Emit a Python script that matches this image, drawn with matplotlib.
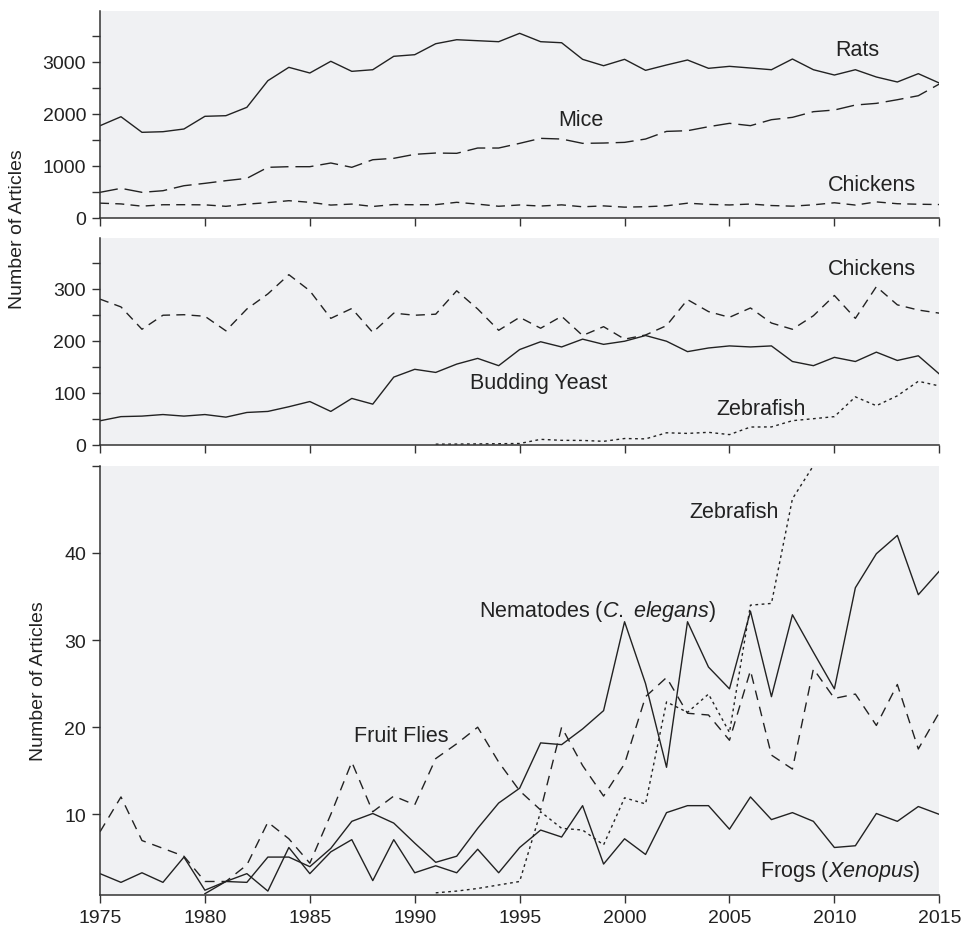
import numpy as np
import matplotlib
matplotlib.use("Agg")
import matplotlib.pyplot as plt

plt.rcParams['font.family'] = ['Liberation Sans', 'DejaVu Sans']
plt.rcParams['mathtext.fontset'] = 'custom'
plt.rcParams['mathtext.rm'] = 'Liberation Sans'
plt.rcParams['mathtext.it'] = 'Liberation Sans:italic'
plt.rcParams['lines.scale_dashes'] = False

years = list(range(1975, 2016))

rats = [1769, 1942, 1642, 1654, 1706, 1950, 1962, 2123, 2635, 2892, 2783, 3008, 2815, 2846,
        3104, 3135, 3346, 3423, 3404, 3385, 3546, 3385, 3365, 3046, 2923, 3046, 2834, 2937,
        3033, 2873, 2911, 2879, 2846, 3052, 2846, 2744, 2846, 2706, 2610, 2770, 2590]
mice = [488, 565, 488, 519, 615, 661, 712, 757, 969, 981, 981, 1052, 969, 1115, 1142, 1219,
        1244, 1238, 1340, 1340, 1430, 1526, 1513, 1430, 1436, 1449, 1513, 1660, 1673, 1750,
        1815, 1770, 1885, 1930, 2039, 2071, 2167, 2199, 2269, 2346, 2571]
chickens = [280, 265, 222, 249, 250, 247, 219, 261, 290, 327, 296, 243, 262, 216, 253, 249,
            251, 296, 261, 220, 245, 224, 247, 210, 227, 203, 211, 229, 279, 256, 245, 263,
            234, 222, 248, 287, 243, 304, 269, 259, 253]
yeast = [46, 54, 55, 58, 55, 58, 53, 62, 64, 73, 83, 64, 89, 78, 130, 145, 139, 155, 166, 152,
         183, 198, 188, 203, 193, 199, 210, 199, 179, 186, 190, 188, 190, 160, 152, 168, 160,
         178, 162, 171, 136]

zebra_years = list(range(1991, 2016))
zebrafish = [1.0, 1.2, 1.5, 1.9, 2.3, 10.3, 8.4, 8.2, 6.5, 11.9, 11.2, 22.9, 21.7, 23.8, 19.4,
             34.0, 34.2, 46.2, 50.0, 54, 92, 75, 94, 122, 113]

fruit_flies = [8.0, 12.0, 7.0, 6.1, 5.2, 2.3, 2.3, 4.2, 9.1, 7.2, 4.4, 10.0, 16.0, 10.3, 12.1,
               11.1, 16.4, 18.1, 20.0, 16.0, 12.7, 10.5, 20.0, 15.6, 12.1, 15.8, 23.5, 25.7,
               21.6, 21.4, 18.5, 26.5, 16.8, 15.2, 26.7, 23.3, 23.8, 20.2, 24.9, 17.5, 21.7]

nema_years = list(range(1980, 2016))
nematodes = [0.9, 2.3, 2.2, 5.1, 5.1, 4.0, 6.1, 9.2, 10.1, 9.0, 6.7, 4.5, 5.2, 8.4, 11.3, 13.0,
             18.2, 18.0, 19.8, 21.9, 32.1, 25.0, 15.4, 32.1, 26.9, 24.4, 33.3, 23.5, 32.9, 28.6,
             24.4, 36.0, 39.9, 42.0, 35.2, 37.9]

frogs = [3.2, 2.2, 3.3, 2.2, 5.1, 1.3, 2.3, 3.2, 1.2, 6.2, 3.2, 5.7, 7.1, 2.4, 7.1, 3.3, 4.1,
         3.3, 6.0, 3.3, 6.2, 8.2, 7.4, 11.0, 4.3, 7.2, 5.4, 10.2, 11.0, 11.0, 8.3, 12.0, 9.4,
         10.2, 9.2, 6.2, 6.4, 10.1, 9.2, 10.9, 10.0]

xticks = [1975, 1980, 1985, 1990, 1995, 2000, 2005, 2010, 2015]

BG = '#f0f1f3'
LC = '#222222'
SC = '#333333'
FS = 14
AFS = 15.5

fig = plt.figure(figsize=(9.66, 9.29), dpi=100)
W, H = 966, 929


def make_ax(top_px, bottom_px):
    left = 100 / W
    width = 839.3 / W
    b = 1 - bottom_px / H
    h = (bottom_px - top_px) / H
    ax = fig.add_axes([left, b, width, h])
    ax.set_facecolor(BG)
    for s in ['top', 'right']:
        ax.spines[s].set_visible(False)
    for s in ['left', 'bottom']:
        ax.spines[s].set_color(SC)
        ax.spines[s].set_linewidth(1.1)
    ax.tick_params(axis='both', direction='out', length=6, width=1.0, color=SC,
                   labelsize=FS, labelcolor=LC, pad=4)
    ax.set_xlim(1975, 2015)
    ax.set_xticks(xticks)
    return ax


def label(ax, x, y, s):
    ax.text(x, y, s, fontsize=AFS, color=LC, ha='center', va='center')


lw = 1.0
# Top panel
ax1 = make_ax(11.5, 218.7)
ax1.plot(years, rats, color=LC, lw=lw)
ax1.plot(years, mice, color=LC, lw=lw, dashes=(13, 5))
ax1.plot(years, chickens, color=LC, lw=lw, dashes=(6.5, 4.5))
ax1.set_ylim(0, 3985)
ax1.set_yticks(np.arange(0, 3501, 500))
ax1.set_yticklabels([str(v) if v % 1000 == 0 else '' for v in range(0, 3501, 500)])
ax1.set_xticklabels([])
label(ax1, 1997.9, 1880, 'Mice')
label(ax1, 2011.1, 3244, 'Rats')
label(ax1, 2011.8, 629, 'Chickens')

# Middle panel
ax2 = make_ax(238.5, 445.7)
ax2.plot(years, chickens, color=LC, lw=lw, dashes=(6.5, 4.5))
ax2.plot(years, yeast, color=LC, lw=lw)
ax2.plot(zebra_years, zebrafish, color=LC, lw=lw, dashes=(2, 2.5))
ax2.set_ylim(0, 398.5)
ax2.set_yticks(np.arange(0, 351, 50))
ax2.set_yticklabels([str(v) if v % 100 == 0 else '' for v in range(0, 351, 50)])
ax2.set_xticklabels([])
label(ax2, 2011.8, 338, 'Chickens')
label(ax2, 1995.9, 120, 'Budding Yeast')
label(ax2, 2006.5, 70, 'Zebrafish')

# Bottom panel
ax3 = make_ax(466.7, 896)
ax3.plot(years, fruit_flies, color=LC, lw=lw, dashes=(7, 5))
ax3.plot(nema_years, nematodes, color=LC, lw=lw)
ax3.plot(years, frogs, color=LC, lw=lw)
ax3.plot(zebra_years, zebrafish, color=LC, lw=lw, dashes=(2, 2.5))
ax3.set_ylim(0.75, 50)
ax3.set_yticks([10, 20, 30, 40, 50])
ax3.set_yticklabels(['10', '20', '30', '40', ''])
ax3.set_xticklabels([str(x) for x in xticks])
label(ax3, 1998.7, 33.4, r'Nematodes $\mathit{(C.\ elegans)}$')
label(ax3, 2005.2, 44.8, 'Zebrafish')
label(ax3, 1989.35, 19.0, 'Fruit Flies')
label(ax3, 2010.3, 3.6, r'Frogs ($\mathit{Xenopus}$)')

fig.text(18 / W, 1 - 229 / H, 'Number of Articles', rotation=90, fontsize=FS, color=LC,
         ha='center', va='center')
fig.text(39 / W, 1 - 681 / H, 'Number of Articles', rotation=90, fontsize=FS, color=LC,
         ha='center', va='center')

fig.savefig('out.png', dpi=100)
